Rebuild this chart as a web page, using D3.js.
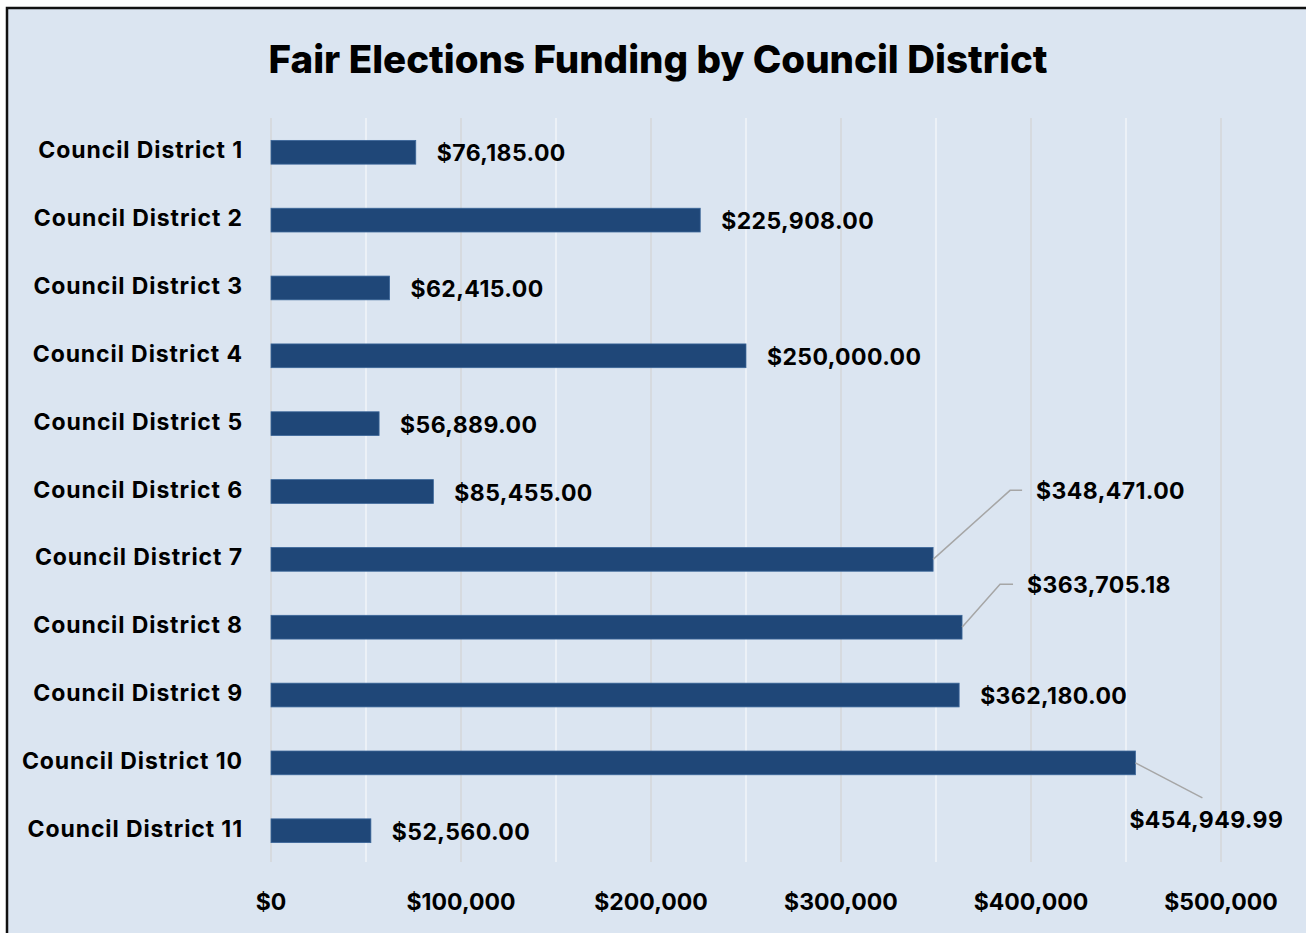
<!DOCTYPE html>
<html>
<head>
<meta charset="utf-8">
<script src="https://cdn.jsdelivr.net/npm/d3@7"></script>
<style>
  body { margin: 0; background: #fff; }
  svg { display: block; font-family: "Inter", "Open Sans", sans-serif; }
  .cat { font-size: 23px; font-weight: 700; letter-spacing: 0.9px; }
  .val { font-size: 23px; font-weight: 700; letter-spacing: 0.4px; }
  .tick { font-size: 23px; font-weight: 700; }
</style>
</head>
<body>
<svg id="chart" width="1306" height="933"></svg>
<script>
// data
const districts = [
  "Council District 1", "Council District 2", "Council District 3",
  "Council District 4", "Council District 5", "Council District 6",
  "Council District 7", "Council District 8", "Council District 9",
  "Council District 10", "Council District 11"
];
const funding = [76185.00, 225908.00, 62415.00, 250000.00, 56889.00, 85455.00,
  348471.00, 363705.18, 362180.00, 454949.99, 52560.00];
const tickValues = [0, 100000, 200000, 300000, 400000, 500000];
const minorValues = [50000, 150000, 250000, 350000, 450000];

const rows = districts.map((d, i) => ({ name: d, value: funding[i] }));

const svg = d3.select("#chart"),
  width = +svg.attr("width"),
  height = +svg.attr("height");

// frame
svg.append("rect")
  .attr("x", 7).attr("y", 8)
  .attr("width", width + 10).attr("height", height + 10)
  .attr("fill", "#dbe5f1")
  .attr("stroke", "#111").attr("stroke-width", 2.5);

const x = d3.scaleLinear().domain([0, 500000]).range([271, 1221]);
const y = d3.scaleBand().domain(districts).range([118, 865]).paddingInner(0.65).paddingOuter(0.33);

// gridlines
svg.append("g").selectAll("line")
  .data(minorValues)
  .enter().append("line")
  .attr("x1", (d) => x(d)).attr("x2", (d) => x(d))
  .attr("y1", 118).attr("y2", 862)
  .attr("stroke", "#f2f5f9").attr("stroke-width", 1.5);

svg.append("g").selectAll("line")
  .data(tickValues)
  .enter().append("line")
  .attr("x1", (d) => x(d)).attr("x2", (d) => x(d))
  .attr("y1", 118).attr("y2", 862)
  .attr("stroke", "#d4d6d9").attr("stroke-width", 1.5);

// title
svg.append("text")
  .attr("x", 658).attr("y", 73)
  .attr("text-anchor", "middle")
  .style("font-size", "38.5px").style("font-weight", 800)
  .text("Fair Elections Funding by Council District");

// bars
svg.append("g").selectAll("rect")
  .data(rows)
  .enter().append("rect")
  .attr("x", x(0))
  .attr("y", (d) => y(d.name))
  .attr("width", (d) => x(d.value) - x(0))
  .attr("height", y.bandwidth())
  .attr("fill", "#1f4778")
  .attr("stroke", "#3b6699").attr("stroke-width", 0.8);

// category labels
svg.append("g").selectAll("text")
  .data(rows)
  .enter().append("text")
  .attr("class", "cat")
  .attr("x", 243)
  .attr("y", (d) => y(d.name) + y.bandwidth() / 2 - 2)
  .attr("dy", "0.35em")
  .attr("text-anchor", "end")
  .text((d) => d.name);

// value labels, a few moved off the bar with leader lines
const fmt = (v) => "$" + d3.format(",.2f")(v);
const moved = {
  "Council District 7": { dx: 103, dy: -68, pts: [[77, -69], [89, -69]] },
  "Council District 8": { dx: 65, dy: -42, pts: [[38, -43], [51, -43]] },
  "Council District 10": { dx: -6, dy: 57, pts: [[67, 35]] }
};

const labels = svg.append("g");
rows.forEach((d) => {
  const bx = x(d.value), by = y(d.name) + y.bandwidth() / 2;
  const m = moved[d.name];
  if (m) {
    const pts = [[bx, by]].concat(m.pts.map((p) => [bx + p[0], by + p[1]]));
    labels.append("path")
      .attr("d", d3.line()(pts))
      .attr("fill", "none")
      .attr("stroke", "#a6a6a6").attr("stroke-width", 1.5);
  }
  labels.append("text")
    .attr("class", "val")
    .attr("x", m ? bx + m.dx : bx + 21)
    .attr("y", m ? by + m.dy : by + 1)
    .attr("dy", "0.35em")
    .text(fmt(d.value));
});

// x tick labels
svg.append("g").selectAll("text")
  .data(tickValues)
  .enter().append("text")
  .attr("class", "tick")
  .attr("x", (d) => x(d))
  .attr("y", 902)
  .attr("dy", "0.35em")
  .attr("text-anchor", "middle")
  .text((d) => "$" + d3.format(",")(d));
</script>
</body>
</html>
